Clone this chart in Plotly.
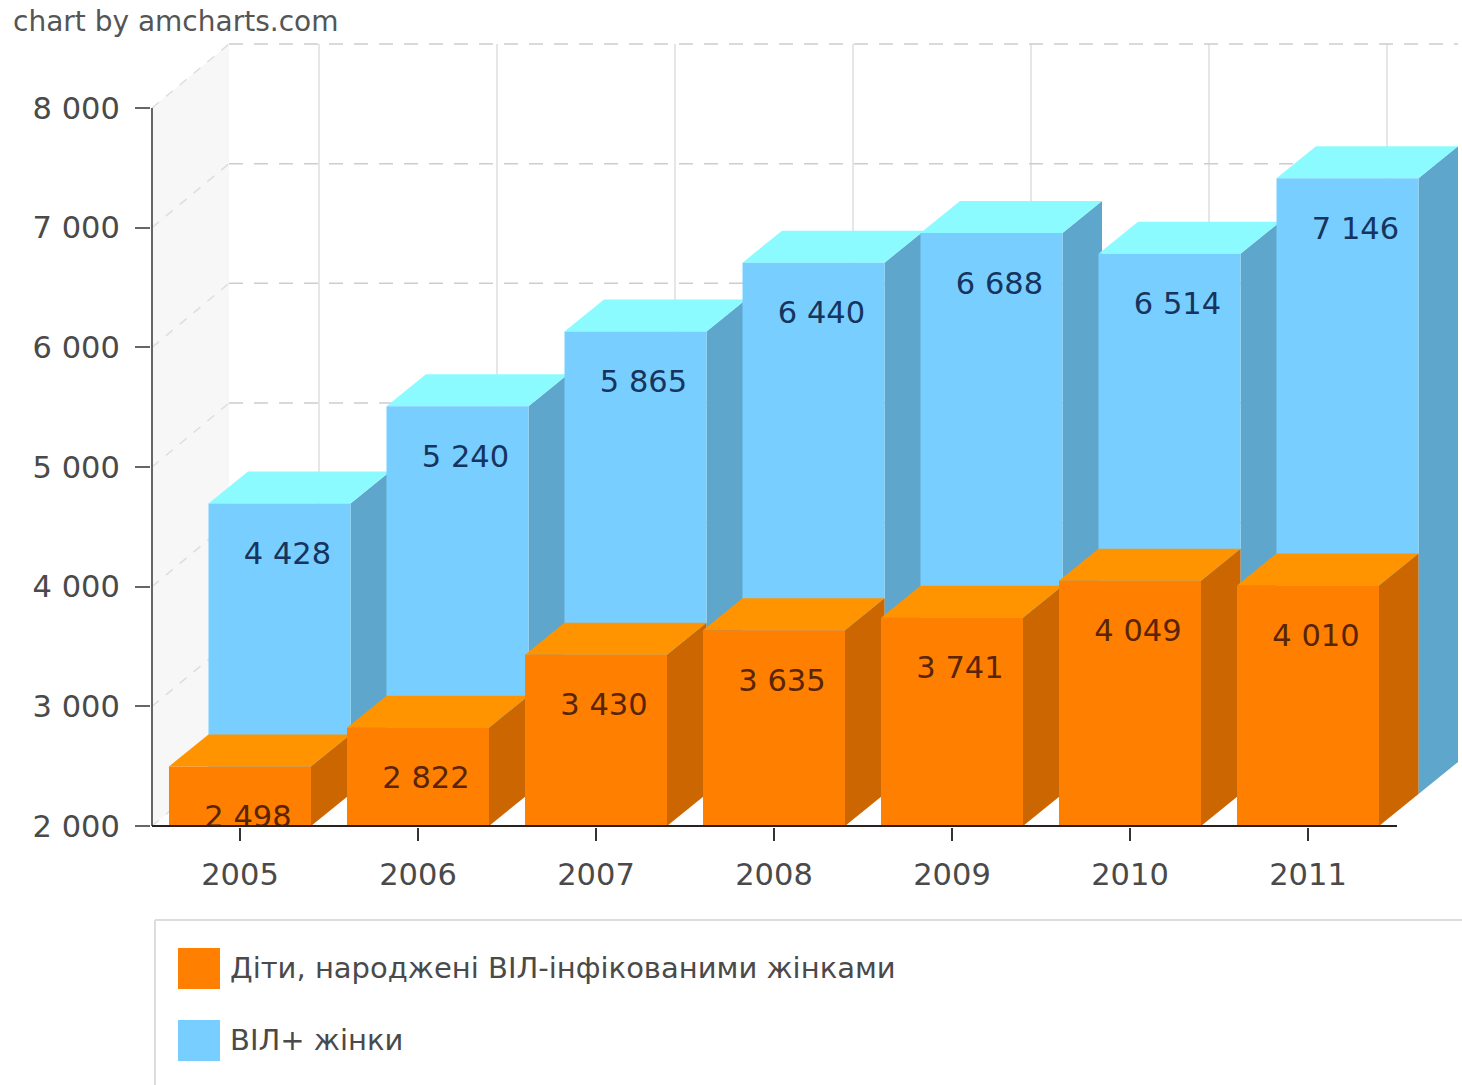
import plotly.graph_objects as go

years = [2005, 2006, 2007, 2008, 2009, 2010, 2011]
children = [2498, 2822, 3430, 3635, 3741, 4049, 4010]
women = [4428, 5240, 5865, 6440, 6688, 6514, 7146]
y_ticks = [2000, 3000, 4000, 5000, 6000, 7000, 8000]
series_names = ["Діти, народжені ВІЛ-інфікованими жінками", "ВІЛ+ жінки"]
credit = "chart by amcharts.com"

W, H = 1462, 1085
L, R, T, B = 151, 1458, 30, 827
PX_X = 178.0
PX_Y = 0.11967
x0 = 2005 + (L - 240) / PX_X
x1 = 2005 + (R - 240) / PX_X
y0 = 2000 - (B - 826) / PX_Y
y1 = 2000 + (826 - T) / PX_Y
BW = 142 / PX_X
DX = 39.5 / PX_X
DY = 32 / PX_Y
WALL_X = 77 / PX_X
LABEL_DROP = 53 / PX_Y
LABEL_SHIFT = 8 / PX_X

ORANGE = dict(front="#FF8000", top="#FF9400", side="#CC6600", text="#5A2408")
BLUE = dict(front="#78CFFF", top="#8CFBFF", side="#5FA6CC", text="#16345E")
GRID = "#CDCDCD"
TXT = "#4A4A4A"
FONT = "DejaVu Sans"

fig = go.Figure()


def poly(xs, ys, color, z):
    fig.add_trace(go.Scatter(x=xs, y=ys, mode="lines", fill="toself", fillcolor=color,
                             line=dict(width=0, color=color), hoverinfo="skip",
                             showlegend=False, zorder=z))


def line(xs, ys, color, width, z, dash=None):
    fig.add_trace(go.Scatter(x=xs, y=ys, mode="lines", line=dict(color=color, width=width, dash=dash),
                             hoverinfo="skip", showlegend=False, zorder=z))


# side wall
xa = x0 + 1 / PX_X
poly([xa, xa + WALL_X, xa + WALL_X, xa, xa],
     [2000, 2000 + 2 * DY, 8000 + 2 * DY, 8000, 2000], "#F7F7F7", 0)

# back wall grid
for v in y_ticks:
    line([xa, xa + WALL_X], [v, v + 2 * DY], "#DEDEDE", 1.5, 1, "9px,9px")
    line([xa + WALL_X, x1], [v + 2 * DY, v + 2 * DY], GRID, 1.5, 1, "14px,11px")
for yr in years:
    bx = yr + 2 * DX
    line([bx, bx], [2000 + 2 * DY, 8000 + 2 * DY], GRID, 1, 1)


def bars(values, style, shift_x, shift_y, z, name):
    for yr, v in zip(years, values):
        lft = yr - BW / 2 + shift_x
        rgt = lft + BW
        bot = 2000 + shift_y
        top = v + shift_y
        poly([rgt, rgt + DX, rgt + DX, rgt, rgt], [bot, bot + DY, top + DY, top, bot], style["side"], z)
        poly([lft, lft + DX, rgt + DX, rgt, lft], [top, top + DY, top + DY, top, top], style["top"], z)
    fig.add_trace(go.Bar(x=[y + shift_x for y in years], y=[v - 2000 for v in values],
                         base=2000 + shift_y, width=BW, marker=dict(color=style["front"], line=dict(width=0)),
                         name=name, showlegend=False, hoverinfo="skip", zorder=z + 1))
    fig.add_trace(go.Scatter(x=[y + shift_x + LABEL_SHIFT for y in years],
                             y=[v + shift_y - LABEL_DROP for v in values],
                             mode="text", text=[f"{v:,}".replace(",", " ") for v in values],
                             textposition="middle center",
                             textfont=dict(family=FONT, size=30.5, color=style["text"]),
                             hoverinfo="skip", showlegend=False, zorder=z + 2))


bars(women, BLUE, DX, DY, 2, series_names[1])
bars(children, ORANGE, 0, 0, 5, series_names[0])

# axis lines
line([xa, xa], [2000, 8000], "#666666", 2, 8)
line([xa, 2005 + (1397 - 240) / PX_X], [2000, 2000], "#2A2020", 2, 8)


def px(x):
    return (x - L) / (R - L)


def py(y):
    return (B - y) / (B - T)


shapes = [
    dict(type="line", xref="paper", yref="paper", x0=px(155), x1=px(W), y0=py(920), y1=py(920),
         line=dict(color="#DDDDDD", width=2)),
    dict(type="line", xref="paper", yref="paper", x0=px(155), x1=px(155), y0=py(920), y1=py(H),
         line=dict(color="#DDDDDD", width=2)),
    dict(type="rect", xref="paper", yref="paper", x0=px(178), x1=px(220), y0=py(948), y1=py(989),
         fillcolor=ORANGE["front"], line=dict(width=0)),
    dict(type="rect", xref="paper", yref="paper", x0=px(178), x1=px(220), y0=py(1020), y1=py(1061),
         fillcolor=BLUE["front"], line=dict(width=0)),
]
annotations = [
    dict(text=credit, xref="paper", yref="paper", x=px(11), y=py(22), xanchor="left", yanchor="middle",
         showarrow=False, font=dict(family=FONT, size=28, color="#555555")),
    dict(text=series_names[0], xref="paper", yref="paper", x=px(228), y=py(968), xanchor="left", yanchor="middle",
         showarrow=False, font=dict(family=FONT, size=29, color=TXT)),
    dict(text=series_names[1], xref="paper", yref="paper", x=px(228), y=py(1040), xanchor="left", yanchor="middle",
         showarrow=False, font=dict(family=FONT, size=29, color=TXT)),
]

fig.update_layout(
    width=W, height=H, margin=dict(l=L, r=W - R, t=T, b=H - B, pad=0),
    paper_bgcolor="white", plot_bgcolor="white", showlegend=False, barmode="overlay",
    shapes=shapes, annotations=annotations,
    xaxis=dict(range=[x0, x1], tickmode="array", tickvals=years, ticktext=[str(y) for y in years],
               showgrid=False, zeroline=False, showline=False, ticks="outside", ticklen=13, tickwidth=2,
               tickcolor="#333333", ticklabelstandoff=7, tickfont=dict(family=FONT, size=30.5, color=TXT)),
    yaxis=dict(range=[y0, y1], tickmode="array", tickvals=y_ticks,
               ticktext=[f"{v:,}".replace(",", " ") for v in y_ticks],
               showgrid=False, zeroline=False, showline=False, ticks="outside", ticklen=15, tickwidth=2,
               tickcolor="#666666", ticklabelstandoff=9, tickfont=dict(family=FONT, size=30.5, color=TXT)),
)

fig.write_html("out.html", config=dict(displayModeBar=False),
               post_script="document.body.style.margin='0';document.body.style.overflow='hidden';")
